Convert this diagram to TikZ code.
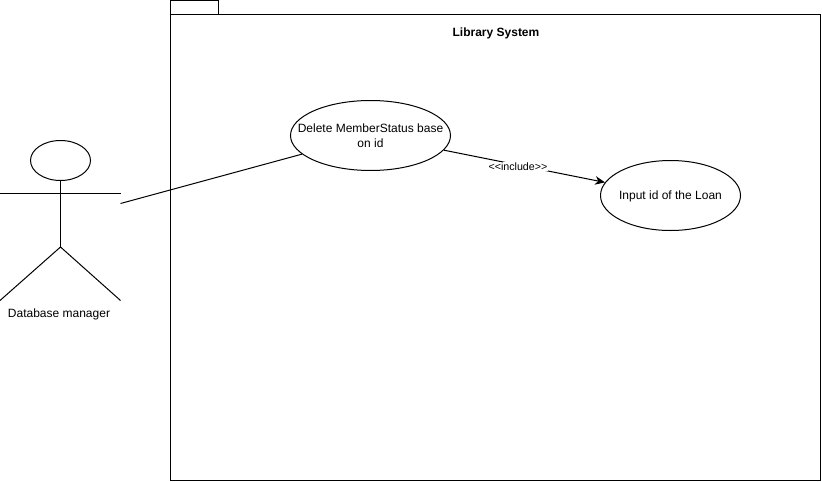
\documentclass[tikz,border=0pt]{standalone}
\usepackage{fontspec}
\setmainfont{Liberation Sans}
\usetikzlibrary{arrows.meta,shapes.geometric}

\begin{document}
\begin{tikzpicture}[x=0.75pt,y=0.75pt,yscale=-1,xscale=1,line width=0.75pt,
  usecase/.style={draw,ellipse,inner sep=-20pt,align=center,font=\fontsize{9}{11.25}\selectfont},
  plaintext/.style={inner sep=0.75pt,font=\fontsize{9}{11.25}\selectfont}]
\useasboundingbox (0,0) rectangle (822,482);

%Package frame
\draw (170.5,14.5) rectangle (820.5,480.5);
\draw (170.5,14.5) -- (170.5,0.5) -- (218.5,0.5) -- (218.5,14.5);

%Actor
\node (actorHead) [draw,ellipse,inner sep=0pt,minimum width=45pt,minimum height=30pt] at (60.5,160.5) {};
\coordinate (actorHip) at (60.5,247);
\coordinate (armLeft) at (0,193.5);
\coordinate (armRight) at (120.5,193.5);
\coordinate (footLeft) at (0,300.5);
\coordinate (footRight) at (120.5,300.5);
\coordinate (actorEnd) at (120.5,203.5);
\draw (actorHead.south) -- (actorHip);
\draw (armLeft) -- (armRight);
\draw (footLeft) -- (actorHip) -- (footRight);

%Use cases
\node (deleteCase) [usecase,minimum width=120pt,minimum height=52.5pt] at (370.5,135.5) {Delete MemberStatus base\\on id};
\node (inputCase) [usecase,minimum width=105pt,minimum height=52.5pt] at (670.5,195.5) {\raisebox{-0.75pt}[\height][\depth]{Input id of the Loan}};

%Connectors
\draw (actorEnd) -- (deleteCase);
\draw [-{Stealth[length=7.5pt,width=6.5pt]}] (deleteCase) -- (inputCase)
  node [pos=0.46,yshift=-1.1pt,fill=white,inner sep=0.75pt,font=\fontsize{8}{10}\selectfont] (includeLabel) {<{}<include>{}>};

% Text Node
\node (systemTitle) [plaintext,font=\fontsize{9}{11.25}\bfseries\selectfont] at (496,33.25) {Library System};
% Text Node
\node (actorName) [plaintext] at (59,314.5) {Database manager};

\end{tikzpicture}
\end{document}
